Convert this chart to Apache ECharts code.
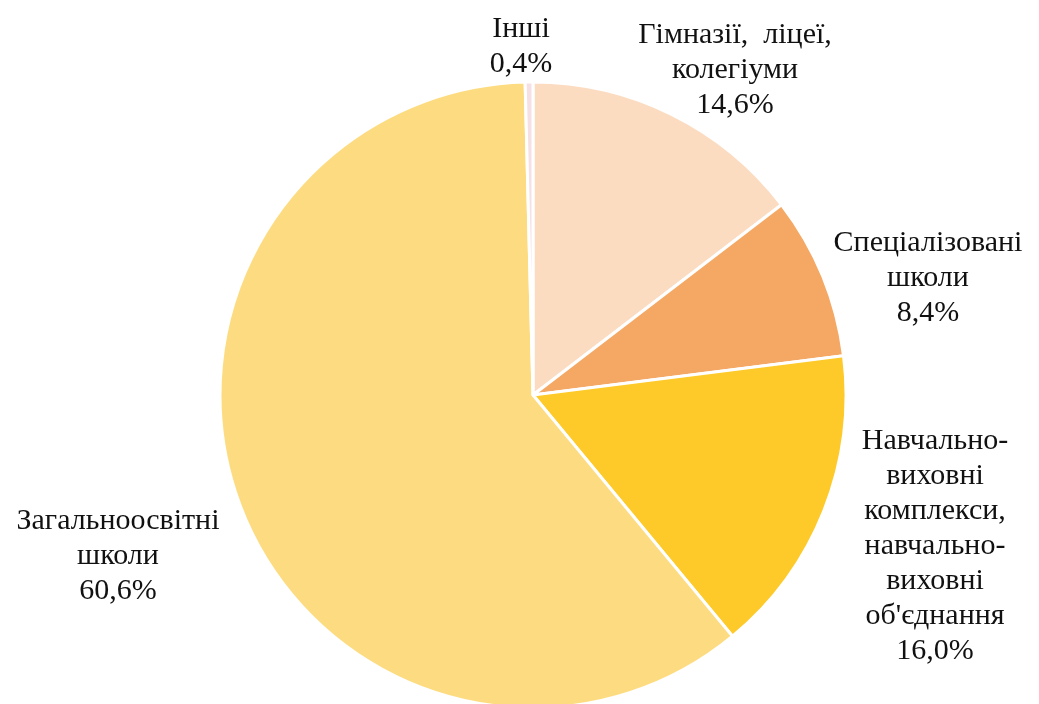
<!DOCTYPE html>
<html>
<head>
<meta charset="utf-8">
<script src="https://cdn.jsdelivr.net/npm/echarts@6/dist/echarts.min.js"></script>
<style>
  html, body { margin: 0; padding: 0; background: #fff; }
  #chart { width: 1039px; height: 704px; }
</style>
</head>
<body>
<div id="chart"></div>
<script>
// categories (clockwise from 12 o'clock)
var categories = [
  'Гімназії,  ліцеї,\nколегіуми',
  'Спеціалізовані\nшколи',
  'Навчально-\nвиховні\nкомплекси,\nнавчально-\nвиховні\nоб\'єднання',
  'Загальноосвітні\nшколи',
  'Інші'
]
var shares = [14.6, 8.4, 16.0, 60.6, 0.4]
var colors = ['#fcdcc1', '#f4a864', '#fdca29', '#fddc81', '#f5e1e3']

// where each label block is centred
var labelPos = [
  [735, 70],
  [928, 278],
  [935, 546],
  [118, 556],
  [521, 47]
]

var myChart = echarts.init(document.getElementById('chart'))
var option = {
  animation: false,
  series: [
    {
      type: 'pie',
      center: [533, 395],
      radius: 313,
      startAngle: 90,
      clockwise: true,
      avoidLabelOverlap: false,
      itemStyle: {
        borderColor: '#fff',
        borderWidth: 3
      },
      label: {
        show: true,
        position: 'outside',
        overflow: 'none',
        fontFamily: '"Liberation Serif", "Times New Roman", serif',
        fontSize: 30,
        lineHeight: 35,
        color: '#111',
        align: 'center',
        formatter: function (p) {
          return p.name + '\n' + p.value.toFixed(1).replace('.', ',') + '%'
        }
      },
      labelLine: { show: false },
      labelLayout: function (params) {
        var pos = labelPos[params.dataIndex]
        return {
          x: pos[0],
          y: pos[1],
          align: 'center',
          verticalAlign: 'middle'
        }
      },
      data: categories.map(function (name, i) {
        return { name: name, value: shares[i], itemStyle: { color: colors[i] } }
      })
    }
  ]
}
myChart.setOption(option)
</script>
</body>
</html>
